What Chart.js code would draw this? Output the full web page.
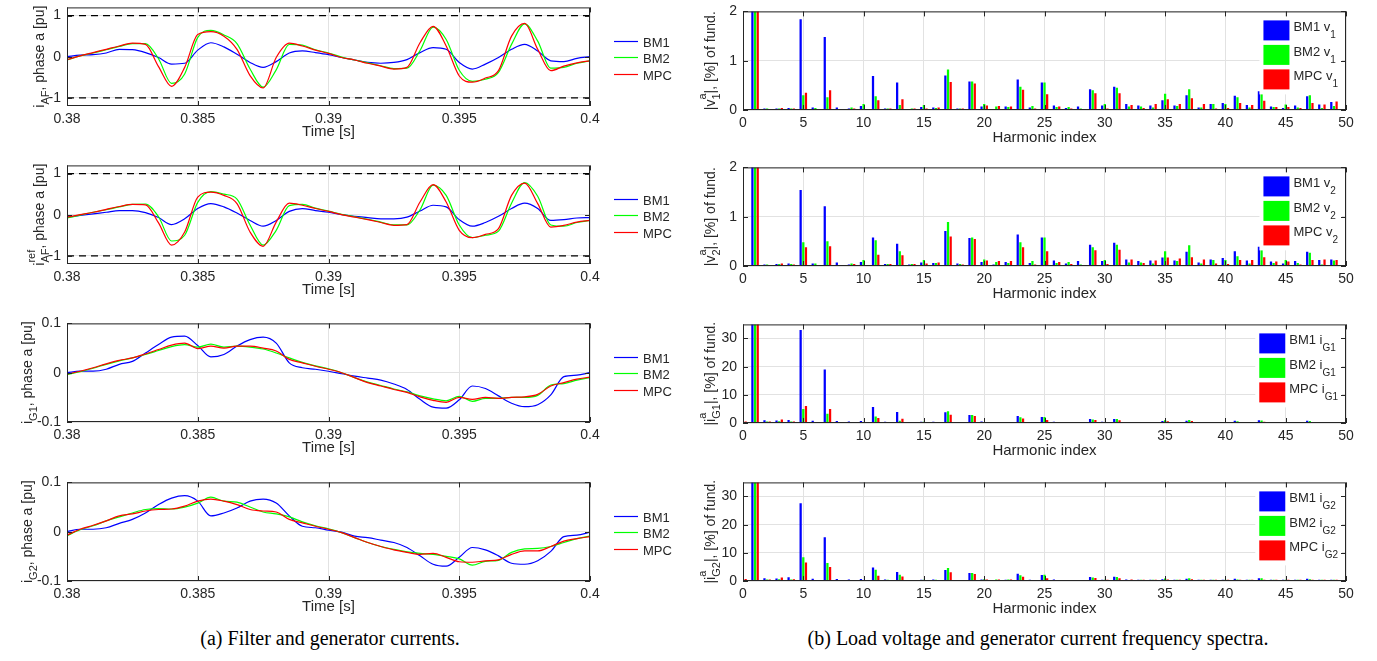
<!DOCTYPE html>
<html>
<head>
<meta charset="utf-8">
<title>Filter / generator currents and spectra</title>
<script src="https://cdn.jsdelivr.net/npm/chart.js@4.4.1/dist/chart.umd.min.js"></script>
<style>
	body { margin: 0; width: 1377px; height: 661px; overflow: hidden; position: relative; background: #fff; }
	.caption { position: absolute; top: 627px; font-family: "Liberation Serif", "Times New Roman", serif; font-size: 20px; color: #000; white-space: nowrap; transform: translateX(-50%); }
</style>
</head>
<body>
<div class="caption" style="left:330px">(a) Filter and generator currents.</div>
<div class="caption" style="left:1038px">(b) Load voltage and generator current frequency spectra.</div>
<script>
// ---- time series (left column) ----
const timeS = [0.3800, 0.3805, 0.3810, 0.3815, 0.3820, 0.3825, 0.3830, 0.3835, 0.3840, 0.3845,
	0.3850, 0.3855, 0.3860, 0.3865, 0.3870, 0.3875, 0.3880, 0.3885, 0.3890, 0.3895,
	0.3900, 0.3905, 0.3910, 0.3915, 0.3920, 0.3925, 0.3930, 0.3935, 0.3940, 0.3945,
	0.3950, 0.3955, 0.3960, 0.3965, 0.3970, 0.3975, 0.3980, 0.3985, 0.3990, 0.3995, 0.4000];
const timeTicks = [0.38, 0.385, 0.39, 0.395, 0.4];
const puTicks = [-1, 0, 1];
const genTicks = [-0.1, 0, 0.1];
const puLimits = [1, -1];

const iAF_BM1 = [0.00, 0.04, 0.05, 0.09, 0.18, 0.17, 0.10, -0.02, -0.18, -0.16,
	0.16, 0.34, 0.24, 0.06, -0.14, -0.26, -0.12, 0.09, 0.14, 0.10,
	0.05, -0.02, -0.08, -0.14, -0.16, -0.14, -0.07, 0.10, 0.22, 0.18,
	-0.14, -0.30, -0.18, -0.02, 0.18, 0.30, 0.14, -0.10, -0.12, -0.04, 0.00];
const iAF_BM2 = [-0.08, 0.02, 0.09, 0.17, 0.25, 0.32, 0.32, -0.05, -0.65, -0.42,
	0.47, 0.64, 0.53, 0.32, -0.30, -0.74, -0.32, 0.30, 0.28, 0.17,
	0.09, -0.01, -0.08, -0.15, -0.22, -0.29, -0.28, 0.15, 0.72, 0.42,
	-0.33, -0.60, -0.55, -0.38, 0.30, 0.80, 0.38, -0.28, -0.26, -0.16, -0.10];
const iAF_MPC = [-0.07, 0.02, 0.10, 0.18, 0.26, 0.33, 0.30, -0.24, -0.72, -0.26,
	0.54, 0.61, 0.50, 0.18, -0.46, -0.76, -0.02, 0.33, 0.26, 0.16,
	0.08, -0.02, -0.08, -0.16, -0.23, -0.30, -0.26, 0.34, 0.74, 0.26,
	-0.47, -0.62, -0.52, -0.34, 0.50, 0.81, 0.18, -0.34, -0.23, -0.15, -0.10];

const iRef_BM1 = [-0.06, -0.02, 0.02, 0.06, 0.10, 0.10, 0.05, -0.07, -0.24, -0.10,
	0.15, 0.27, 0.19, 0.04, -0.14, -0.28, -0.14, 0.08, 0.15, 0.10,
	0.06, 0.00, -0.04, -0.07, -0.10, -0.10, -0.06, 0.09, 0.23, 0.19,
	-0.12, -0.28, -0.19, -0.04, 0.15, 0.28, 0.15, -0.14, -0.12, -0.08, -0.07];
const iRef_BM2 = [-0.08, -0.01, 0.06, 0.12, 0.19, 0.25, 0.26, -0.05, -0.64, -0.50,
	0.30, 0.56, 0.50, 0.38, -0.25, -0.74, -0.38, 0.22, 0.25, 0.16,
	0.09, 0.01, -0.05, -0.11, -0.18, -0.25, -0.25, 0.12, 0.72, 0.47,
	-0.25, -0.56, -0.50, -0.40, 0.28, 0.78, 0.45, -0.25, -0.28, -0.19, -0.14];
const iRef_MPC = [-0.06, 0.00, 0.06, 0.13, 0.20, 0.25, 0.24, -0.20, -0.74, -0.42,
	0.43, 0.55, 0.47, 0.27, -0.42, -0.77, -0.18, 0.28, 0.23, 0.15,
	0.08, 0.00, -0.06, -0.12, -0.19, -0.26, -0.24, 0.31, 0.73, 0.31,
	-0.38, -0.56, -0.48, -0.34, 0.47, 0.77, 0.27, -0.30, -0.26, -0.18, -0.14];

const iG1_BM1 = [0.000, 0.003, 0.003, 0.007, 0.017, 0.023, 0.040, 0.057, 0.072, 0.074,
	0.055, 0.032, 0.037, 0.054, 0.067, 0.072, 0.060, 0.020, 0.010, 0.007,
	0.003, -0.002, -0.007, -0.011, -0.015, -0.023, -0.034, -0.054, -0.070, -0.072,
	-0.055, -0.027, -0.032, -0.047, -0.062, -0.069, -0.065, -0.045, -0.008, -0.005, 0.000];
const iG1_BM2 = [-0.004, 0.002, 0.009, 0.017, 0.024, 0.030, 0.037, 0.045, 0.053, 0.057,
	0.052, 0.058, 0.052, 0.054, 0.052, 0.048, 0.040, 0.030, 0.021, 0.014,
	0.008, 0.000, -0.010, -0.019, -0.026, -0.033, -0.039, -0.047, -0.053, -0.057,
	-0.048, -0.058, -0.052, -0.052, -0.050, -0.050, -0.046, -0.025, -0.022, -0.015, -0.010];
const iG1_MPC = [-0.003, 0.003, 0.010, 0.018, 0.025, 0.030, 0.038, 0.047, 0.056, 0.060,
	0.049, 0.054, 0.050, 0.054, 0.054, 0.050, 0.044, 0.027, 0.020, 0.013,
	0.007, 0.000, -0.010, -0.020, -0.027, -0.034, -0.040, -0.049, -0.056, -0.060,
	-0.050, -0.054, -0.050, -0.052, -0.050, -0.049, -0.044, -0.027, -0.020, -0.013, -0.009];

const iG2_BM1 = [0.000, 0.005, 0.005, 0.008, 0.017, 0.025, 0.038, 0.055, 0.068, 0.073,
	0.062, 0.032, 0.038, 0.048, 0.062, 0.066, 0.058, 0.032, 0.011, 0.008,
	0.003, -0.001, -0.009, -0.012, -0.017, -0.022, -0.032, -0.049, -0.066, -0.070,
	-0.052, -0.032, -0.037, -0.049, -0.064, -0.066, -0.059, -0.040, -0.010, -0.007, -0.001];
const iG2_BM2 = [-0.008, 0.004, 0.012, 0.022, 0.030, 0.038, 0.045, 0.047, 0.046, 0.050,
	0.058, 0.070, 0.062, 0.060, 0.050, 0.040, 0.036, 0.030, 0.020, 0.012,
	0.006, -0.002, -0.012, -0.022, -0.030, -0.036, -0.041, -0.044, -0.046, -0.050,
	-0.055, -0.068, -0.060, -0.058, -0.042, -0.035, -0.034, -0.030, -0.022, -0.014, -0.009];
const iG2_MPC = [-0.007, 0.005, 0.013, 0.022, 0.032, 0.036, 0.042, 0.045, 0.046, 0.052,
	0.062, 0.066, 0.062, 0.055, 0.045, 0.042, 0.040, 0.025, 0.018, 0.011,
	0.005, -0.002, -0.012, -0.022, -0.030, -0.037, -0.042, -0.046, -0.044, -0.052,
	-0.061, -0.062, -0.059, -0.057, -0.046, -0.039, -0.039, -0.030, -0.019, -0.014, -0.010];

// ---- harmonic spectra (right column), % of fundamental ----
const harmonics = [0, 1, 2, 3, 4, 5, 6, 7, 8, 9, 10, 11, 12, 13, 14, 15, 16, 17, 18, 19,
	20, 21, 22, 23, 24, 25, 26, 27, 28, 29, 30, 31, 32, 33, 34, 35, 36, 37, 38, 39,
	40, 41, 42, 43, 44, 45, 46, 47, 48, 49];
const harmTicks = [0, 5, 10, 15, 20, 25, 30, 35, 40, 45, 50];
const vTicks = [0, 1, 2];
const iTicks = [0, 10, 20, 30];

const v1_BM1 = [0.01, 100, 0.03, 0.03, 0.04, 1.84, 0.05, 1.48, 0.05, 0.03,
	0.08, 0.69, 0.03, 0.56, 0.02, 0.06, 0.05, 0.70, 0.03, 0.58,
	0.07, 0.02, 0.07, 0.62, 0.05, 0.56, 0.09, 0.04, 0.07, 0.42,
	0.09, 0.47, 0.12, 0.09, 0.09, 0.20, 0.09, 0.30, 0.05, 0.12,
	0.14, 0.29, 0.10, 0.38, 0.07, 0.04, 0.09, 0.28, 0.11, 0.16];
const v1_BM2 = [0.01, 100, 0.03, 0.03, 0.03, 0.30, 0.04, 0.26, 0.02, 0.05,
	0.12, 0.28, 0.03, 0.10, 0.03, 0.10, 0.04, 0.82, 0.03, 0.58,
	0.12, 0.07, 0.06, 0.47, 0.08, 0.56, 0.06, 0.06, 0.03, 0.40,
	0.12, 0.45, 0.07, 0.07, 0.05, 0.33, 0.08, 0.42, 0.05, 0.12,
	0.12, 0.26, 0.05, 0.36, 0.06, 0.11, 0.05, 0.30, 0.04, 0.08];
const v1_MPC = [0.02, 100, 0.02, 0.04, 0.03, 0.35, 0.02, 0.40, 0.02, 0.03,
	0.02, 0.20, 0.03, 0.22, 0.03, 0.03, 0.05, 0.57, 0.03, 0.54,
	0.09, 0.08, 0.07, 0.41, 0.03, 0.32, 0.07, 0.03, 0.02, 0.34,
	0.03, 0.34, 0.10, 0.04, 0.12, 0.22, 0.12, 0.24, 0.12, 0.03,
	0.04, 0.14, 0.10, 0.19, 0.06, 0.06, 0.04, 0.14, 0.11, 0.17];

const v2_BM1 = [0.01, 100, 0.03, 0.04, 0.05, 1.54, 0.05, 1.21, 0.07, 0.03,
	0.08, 0.58, 0.04, 0.45, 0.03, 0.07, 0.06, 0.71, 0.05, 0.57,
	0.08, 0.03, 0.08, 0.64, 0.06, 0.58, 0.11, 0.05, 0.10, 0.43,
	0.10, 0.47, 0.13, 0.10, 0.11, 0.17, 0.11, 0.29, 0.07, 0.13,
	0.16, 0.30, 0.11, 0.39, 0.09, 0.05, 0.10, 0.29, 0.12, 0.13];
const v2_BM2 = [0.01, 100, 0.03, 0.04, 0.04, 0.48, 0.05, 0.50, 0.02, 0.05,
	0.12, 0.52, 0.04, 0.30, 0.04, 0.12, 0.06, 0.89, 0.04, 0.58,
	0.13, 0.08, 0.06, 0.48, 0.10, 0.58, 0.06, 0.08, 0.03, 0.38,
	0.12, 0.43, 0.07, 0.07, 0.05, 0.30, 0.10, 0.42, 0.05, 0.12,
	0.12, 0.20, 0.05, 0.38, 0.06, 0.12, 0.06, 0.27, 0.03, 0.11];
const v2_MPC = [0.02, 100, 0.02, 0.05, 0.03, 0.38, 0.02, 0.40, 0.02, 0.04,
	0.02, 0.23, 0.04, 0.22, 0.04, 0.05, 0.07, 0.60, 0.03, 0.55,
	0.11, 0.10, 0.10, 0.38, 0.03, 0.30, 0.08, 0.04, 0.02, 0.32,
	0.04, 0.33, 0.13, 0.06, 0.11, 0.17, 0.15, 0.18, 0.13, 0.05,
	0.04, 0.12, 0.12, 0.18, 0.09, 0.09, 0.03, 0.12, 0.13, 0.12];

const g1_BM1 = [0.3, 100, 1.0, 0.9, 1.1, 33.0, 0.8, 19.0, 0.7, 0.5,
	0.7, 5.7, 0.4, 3.9, 0.3, 0.4, 0.4, 3.8, 0.3, 2.8,
	0.5, 0.3, 0.3, 2.5, 0.3, 2.1, 0.4, 0.3, 0.3, 1.4,
	0.4, 1.4, 0.3, 0.3, 0.3, 0.7, 0.3, 0.8, 0.3, 0.3,
	0.3, 0.8, 0.3, 1.0, 0.3, 0.3, 0.3, 0.8, 0.3, 0.3];
const g1_BM2 = [0.3, 100, 0.5, 0.6, 0.5, 5.0, 0.3, 3.3, 0.3, 0.3,
	0.3, 2.3, 0.3, 0.8, 0.3, 0.4, 0.3, 4.2, 0.3, 2.8,
	0.3, 0.3, 0.3, 2.0, 0.3, 2.1, 0.3, 0.3, 0.3, 1.2,
	0.3, 1.4, 0.3, 0.3, 0.3, 1.0, 0.3, 1.1, 0.3, 0.3,
	0.3, 0.6, 0.3, 0.9, 0.3, 0.3, 0.3, 0.7, 0.3, 0.3];
const g1_MPC = [0.5, 100, 0.5, 1.2, 0.5, 6.0, 0.3, 5.0, 0.3, 0.3,
	0.3, 1.8, 0.3, 1.5, 0.3, 0.3, 0.3, 2.9, 0.3, 2.5,
	0.3, 0.3, 0.3, 1.6, 0.3, 1.1, 0.3, 0.3, 0.3, 1.1,
	0.3, 1.0, 0.3, 0.3, 0.3, 0.6, 0.3, 0.7, 0.3, 0.3,
	0.3, 0.3, 0.3, 0.4, 0.3, 0.3, 0.3, 0.3, 0.3, 0.3];

const g2_BM1 = [0.3, 100, 1.0, 0.9, 1.3, 27.6, 0.8, 15.5, 0.7, 0.5,
	0.7, 4.8, 0.5, 3.2, 0.3, 0.4, 0.5, 3.9, 0.3, 2.8,
	0.5, 0.3, 0.4, 2.6, 0.4, 2.1, 0.5, 0.3, 0.3, 1.4,
	0.4, 1.5, 0.5, 0.4, 0.4, 0.6, 0.4, 0.8, 0.4, 0.4,
	0.4, 0.8, 0.4, 1.0, 0.4, 0.4, 0.4, 0.8, 0.4, 0.4];
const g2_BM2 = [0.3, 100, 0.5, 0.6, 0.5, 8.4, 0.3, 6.4, 0.3, 0.3,
	0.3, 4.0, 0.4, 2.2, 0.3, 0.4, 0.4, 4.6, 0.3, 2.8,
	0.6, 0.5, 0.5, 2.0, 0.3, 2.2, 0.3, 0.3, 0.3, 1.2,
	0.4, 1.4, 0.3, 0.4, 0.4, 0.9, 0.4, 1.0, 0.4, 0.4,
	0.4, 0.5, 0.4, 1.0, 0.4, 0.4, 0.4, 0.6, 0.4, 0.4];
const g2_MPC = [0.7, 100, 0.5, 1.2, 0.6, 6.6, 0.3, 5.0, 0.3, 0.3,
	0.3, 1.9, 0.3, 1.6, 0.3, 0.3, 0.3, 3.1, 0.3, 2.5,
	0.5, 0.5, 0.5, 1.5, 0.3, 1.0, 0.3, 0.3, 0.3, 1.1,
	0.4, 1.0, 0.5, 0.4, 0.4, 0.5, 0.4, 0.6, 0.4, 0.4,
	0.4, 0.4, 0.4, 0.4, 0.4, 0.4, 0.4, 0.4, 0.4, 0.4];

const seriesNames = ['BM1', 'BM2', 'MPC'];

// ---- look ----
const FONT = '"Liberation Sans", Arial, Helvetica, sans-serif';
const INK = '#262626';
const GRID = '#e2e2e2';
const COLORS = ['#0000ff', '#00ff00', '#ff0000'];
const PAD_T = 12;
const PLOT_H = 101;
const X_H = 42;

Chart.defaults.font.family = FONT;
Chart.defaults.color = INK;

const extras = new Map();

const richWidth = (ctx, parts, size) => {
	let w = 0;
	parts.forEach(p => {
		if (typeof p === 'string') {
			ctx.font = `${size}px ${FONT}`;
			w += ctx.measureText(p).width;
		} else {
			ctx.font = `${Math.round(size * 0.75)}px ${FONT}`;
			w += Math.max(...[p.sup, p.sub].filter(Boolean).map(s => ctx.measureText(s).width));
		}
	});
	return w;
};

// text with sub/superscripts; y is the baseline of the normal text
const drawRich = (ctx, parts, x, y, size, drop = size * 0.35, rise = size * 0.55) => {
	let cx = x;
	const small = Math.round(size * 0.75);
	parts.forEach(p => {
		if (typeof p === 'string') {
			ctx.font = `${size}px ${FONT}`;
			ctx.fillText(p, cx, y);
			cx += ctx.measureText(p).width;
		} else {
			ctx.font = `${small}px ${FONT}`;
			let w = 0;
			if (p.sup) {
				ctx.fillText(p.sup, cx, y - rise);
				w = ctx.measureText(p.sup).width;
			}
			if (p.sub) {
				ctx.fillText(p.sub, cx, y + drop);
				w = Math.max(w, ctx.measureText(p.sub).width);
			}
			cx += w;
		}
	});
};

// matlab-like box, inward ticks, axis titles and legends
const framePlugin = {
	id: 'frame',
	afterDatasetsDraw(chart) {
		const ex = extras.get(chart.canvas);
		if (!ex) return;
		const {ctx, chartArea: a} = chart;
		const xs = chart.scales.x, ys = chart.scales.y;
		ctx.save();
		ctx.textAlign = 'left';
		ctx.textBaseline = 'alphabetic';

		if (ex.legend === 'line') {
			const mid = (a.top + a.bottom) / 2;
			[-16, 0, 17].forEach((dy, i) => {
				const y = Math.round(mid + dy) + 0.5;
				ctx.strokeStyle = COLORS[i];
				ctx.lineWidth = 1.2;
				ctx.beginPath();
				ctx.moveTo(a.right + 24, y);
				ctx.lineTo(a.right + 48, y);
				ctx.stroke();
				ctx.fillStyle = INK;
				ctx.font = `13px ${FONT}`;
				ctx.fillText(seriesNames[i], a.right + 53, y + 5);
			});
		} else if (ex.legend === 'box') {
			const labels = seriesNames.map(n => [`${n} ${ex.sym}`, {sub: ex.sub}]);
			const tw = Math.max(...labels.map(l => richWidth(ctx, l, 13)));
			const x0 = a.right - 8 - tw - 30;
			ctx.fillStyle = '#fff';
			ctx.fillRect(x0 - 4, a.top + 5, tw + 38, 78);
			COLORS.forEach((c, i) => {
				const y = a.top + 9 + i * 24.5;
				ctx.fillStyle = c;
				ctx.fillRect(x0, y, 26, 20);
				ctx.fillStyle = INK;
				drawRich(ctx, labels[i], x0 + 30, y + 11, 13, 7);
			});
		}

		ctx.strokeStyle = INK;
		ctx.lineWidth = 1;
		ctx.strokeRect(a.left + 0.5, a.top + 0.5, a.width - 1, a.height - 1);
		ctx.beginPath();
		xs.ticks.forEach(t => {
			const px = Math.round(xs.getPixelForValue(t.value)) + 0.5;
			ctx.moveTo(px, a.bottom); ctx.lineTo(px, a.bottom - 5);
			ctx.moveTo(px, a.top); ctx.lineTo(px, a.top + 5);
		});
		ys.ticks.forEach(t => {
			const py = Math.round(ys.getPixelForValue(t.value)) + 0.5;
			ctx.moveTo(a.left, py); ctx.lineTo(a.left + 5, py);
			ctx.moveTo(a.right, py); ctx.lineTo(a.right - 5, py);
		});
		ctx.stroke();

		ctx.fillStyle = INK;
		ctx.font = `15px ${FONT}`;
		ctx.textAlign = 'center';
		ctx.fillText(ex.xTitle, (a.left + a.right) / 2, a.bottom + ex.xGap);

		ctx.textAlign = 'left';
		const w = richWidth(ctx, ex.yTitle, 14);
		ctx.translate(a.left - ex.yGap, (a.top + a.bottom) / 2);
		ctx.rotate(-Math.PI / 2);
		drawRich(ctx, ex.yTitle, -w / 2, 5, 14, 5, 9);
		ctx.restore();
	}
};
Chart.register(framePlugin);

const addCanvas = (left, top, width, height) => {
	const c = document.createElement('canvas');
	c.width = width;
	c.height = height;
	c.style.cssText = `position:absolute;left:${left}px;top:${top}px;width:${width}px;height:${height}px`;
	document.body.appendChild(c);
	return c;
};

const setTicks = list => scale => { scale.ticks = list.map(v => ({value: v})); };

const timePlot = (plotTop, series, yMin, yMax, yTicks, limits, yTitle, yGap) => {
	const canvas = addCanvas(0, plotTop - PAD_T, 690, PAD_T + PLOT_H + X_H);
	extras.set(canvas, {legend: 'line', xTitle: 'Time [s]', xGap: 30, yTitle, yGap});
	const datasets = [];
	limits.forEach(v => datasets.push({
		data: [{x: timeTicks[0], y: v}, {x: timeTicks[timeTicks.length - 1], y: v}],
		borderColor: '#000', borderWidth: 1.2, borderDash: [7, 5], pointRadius: 0, order: 0
	}));
	series.forEach((arr, i) => datasets.push({
		data: timeS.map((t, k) => ({x: t, y: arr[k]})),
		borderColor: COLORS[i], borderWidth: 1.2, pointRadius: 0,
		cubicInterpolationMode: 'monotone', order: 3 - i
	}));
	new Chart(canvas, {
		type: 'line',
		data: {datasets},
		options: {
			responsive: false,
			animation: false,
			events: [],
			layout: {padding: {top: PAD_T, right: 100, left: 0, bottom: 0}},
			plugins: {legend: {display: false}, tooltip: {enabled: false}},
			scales: {
				x: {
					type: 'linear', min: timeTicks[0], max: timeTicks[timeTicks.length - 1],
					afterFit: s => { s.height = X_H; },
					afterBuildTicks: setTicks(timeTicks),
					grid: {color: GRID, drawTicks: false},
					border: {display: false},
					ticks: {padding: 5, font: {size: 14}, maxRotation: 0, autoSkip: false, callback: v => String(v)}
				},
				y: {
					min: yMin, max: yMax,
					afterFit: s => { s.width = 67; },
					afterBuildTicks: setTicks(yTicks),
					grid: {color: GRID, drawTicks: false},
					border: {display: false},
					ticks: {padding: 6, font: {size: 14}, autoSkip: false, callback: v => String(v)}
				}
			}
		}
	});
};

const spectrumPlot = (plotTop, series, yMax, yTicks, yTitle, sym, sub) => {
	const canvas = addCanvas(690, plotTop - PAD_T, 687, PAD_T + PLOT_H + X_H);
	extras.set(canvas, {legend: 'box', sym, sub, xTitle: 'Harmonic index', xGap: 32, yTitle, yGap: 33});
	new Chart(canvas, {
		type: 'bar',
		data: {
			datasets: series.map((arr, i) => ({
				data: harmonics.map((h, k) => ({x: h, y: arr[k]})),
				backgroundColor: COLORS[i], borderWidth: 0,
				categoryPercentage: 0.66, barPercentage: 0.85
			}))
		},
		options: {
			responsive: false,
			animation: false,
			events: [],
			layout: {padding: {top: PAD_T, right: 31, left: 0, bottom: 0}},
			plugins: {legend: {display: false}, tooltip: {enabled: false}},
			scales: {
				x: {
					type: 'linear', offset: false, min: harmTicks[0], max: harmTicks[harmTicks.length - 1],
					afterFit: s => { s.height = X_H; },
					afterBuildTicks: setTicks(harmTicks),
					grid: {color: GRID, drawTicks: false, offset: false},
					border: {display: false},
					ticks: {padding: 5, font: {size: 14}, maxRotation: 0, autoSkip: false, callback: v => String(v)}
				},
				y: {
					min: 0, max: yMax,
					afterFit: s => { s.width = 53; },
					afterBuildTicks: setTicks(yTicks),
					grid: {color: GRID, drawTicks: false},
					border: {display: false},
					ticks: {padding: 6, font: {size: 14}, autoSkip: false, callback: v => String(v)}
				}
			}
		}
	});
};

timePlot(5, [iAF_BM1, iAF_BM2, iAF_MPC], -1.2, 1.2, puTicks, puLimits,
	['i', {sub: 'AF'}, ', phase a [pu]'], 28);
timePlot(163, [iRef_BM1, iRef_BM2, iRef_MPC], -1.2, 1.2, puTicks, puLimits,
	['i', {sup: 'ref', sub: 'AF'}, ', phase a [pu]'], 28);
timePlot(321, [iG1_BM1, iG1_BM2, iG1_MPC], -0.1, 0.1, genTicks, [],
	['i', {sub: 'G1'}, ', phase a [pu]'], 40);
timePlot(480, [iG2_BM1, iG2_BM2, iG2_MPC], -0.1, 0.1, genTicks, [],
	['i', {sub: 'G2'}, ', phase a [pu]'], 40);

spectrumPlot(9, [v1_BM1, v1_BM2, v1_MPC], 2, vTicks,
	['|v', {sup: 'a', sub: '1'}, '|, [%] of fund.'], 'v', '1');
spectrumPlot(165, [v2_BM1, v2_BM2, v2_MPC], 2, vTicks,
	['|v', {sup: 'a', sub: '2'}, '|, [%] of fund.'], 'v', '2');
spectrumPlot(322, [g1_BM1, g1_BM2, g1_MPC], 35, iTicks,
	['|i', {sup: 'a', sub: 'G1'}, '|, [%] of fund.'], 'i', 'G1');
spectrumPlot(480, [g2_BM1, g2_BM2, g2_MPC], 35, iTicks,
	['|i', {sup: 'a', sub: 'G2'}, '|, [%] of fund.'], 'i', 'G2');
</script>
</body>
</html>
